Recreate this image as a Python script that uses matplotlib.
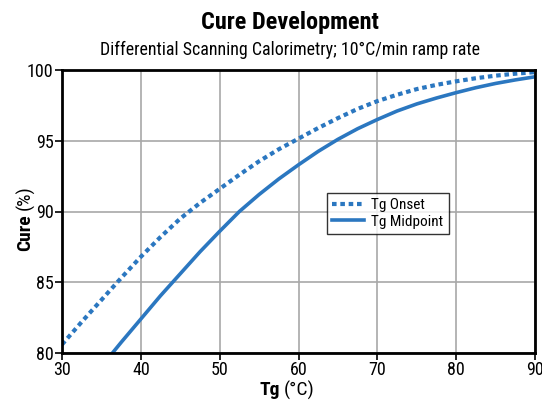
import matplotlib
matplotlib.use("Agg")
import matplotlib.pyplot as plt
from matplotlib import font_manager

names = {f.name for f in font_manager.fontManager.ttflist}
fam = "Roboto"
for cand in ["Liberation Sans Narrow", "Roboto Condensed", "Open Sans Condensed", "Noto Sans Condensed"]:
    if cand in names:
        fam = cand
        break
plt.rcParams['font.family'] = [fam, 'DejaVu Sans']

# Data
tg_onset_x = [30, 32.5, 35, 37.5, 40, 42.5, 45, 47.5, 50, 52.5, 55, 57.5, 60,
              62.5, 65, 67.5, 70, 72.5, 75, 77.5, 80, 82.5, 85, 87.5, 90]
tg_onset_y = [80.6, 82.2, 83.75, 85.3, 86.8, 88.2, 89.5, 90.6, 91.6, 92.6, 93.55, 94.4, 95.15,
              95.9, 96.6, 97.25, 97.8, 98.25, 98.65, 98.95, 99.2, 99.42, 99.6, 99.74, 99.85]
tg_mid_x = [36.4, 37.5, 40, 42.5, 45, 47.5, 50, 52.5, 55, 57.5, 60, 62.5,
            65, 67.5, 70, 72.5, 75, 77.5, 80, 82.5, 85, 87.5, 90]
tg_mid_y = [80.0, 80.75, 82.4, 84.05, 85.6, 87.15, 88.6, 90.0, 91.2, 92.3, 93.3, 94.25,
            95.1, 95.85, 96.5, 97.1, 97.6, 98.02, 98.4, 98.75, 99.05, 99.3, 99.52]
x_ticks = [30, 40, 50, 60, 70, 80, 90]
y_ticks = [80, 85, 90, 95, 100]
color = "#2b77c0"

W, H = 542, 401
fig = plt.figure(figsize=(W/100, H/100), dpi=100)
ax = fig.add_axes([62/W, 1-353/H, (535-62)/W, (353-70)/H])

ax.plot(tg_onset_x, tg_onset_y, color=color, lw=3.0, linestyle=(0, (1.1, 0.9)),
        label="Tg Onset", dash_capstyle='butt', solid_joinstyle='round')
ax.plot(tg_mid_x, tg_mid_y, color=color, lw=2.6, label="Tg Midpoint",
        solid_joinstyle='round')

ax.set_xlim(30, 90)
ax.set_ylim(80, 100)
ax.set_xticks(x_ticks)
ax.set_yticks(y_ticks)
ax.grid(True, color="#a8a8a8", lw=1.2)
ax.set_axisbelow(True)
for s in ax.spines.values():
    s.set_linewidth(2.0)
    s.set_color("black")
ax.tick_params(axis='both', direction='out', length=5, width=1.2, labelsize=13, pad=1, colors='black')

leg = ax.legend(loc='upper left', bbox_to_anchor=((327-62)/(535-62), 1-(193-70)/(353-70)),
                frameon=True, fancybox=False, edgecolor='black', fontsize=11,
                handlelength=2.1, borderpad=0.35, labelspacing=0.15, handletextpad=0.45,
                borderaxespad=0)
leg.get_frame().set_linewidth(1.0)

fig.text(290/W, 1-22/H, "Cure Development", ha='center', va='center', fontsize=17.5, fontweight='bold')
fig.text(290/W, 1-50/H, "Differential Scanning Calorimetry; 10°C/min ramp rate", ha='center', va='center', fontsize=12.9)

# Axis labels with a bold part and a regular part, centred as a group
fig.canvas.draw()
r = fig.canvas.get_renderer()
gap = 4
xa = fig.text(0, 1-390/H, "Tg", ha='left', va='center', fontsize=14, fontweight='bold')
xb = fig.text(0, 1-390/H, "(°C)", ha='left', va='center', fontsize=14)
wa = xa.get_window_extent(r).width
wb = xb.get_window_extent(r).width
start = 287 - (wa + gap + wb) / 2
xa.set_x(start / W)
xb.set_x((start + wa + gap) / W)

ya = fig.text(25/W, 0, "Cure", ha='center', va='bottom', rotation=90, fontsize=14, fontweight='bold')
yb = fig.text(25/W, 0, "(%)", ha='center', va='bottom', rotation=90, fontsize=14)
ha_ = ya.get_window_extent(r).height
hb_ = yb.get_window_extent(r).height
center_from_top = 218
bottom_px = H - center_from_top - (ha_ + gap + hb_) / 2
ya.set_y(bottom_px / H)
yb.set_y((bottom_px + ha_ + gap) / H)

fig.savefig("out.png", dpi=100)
